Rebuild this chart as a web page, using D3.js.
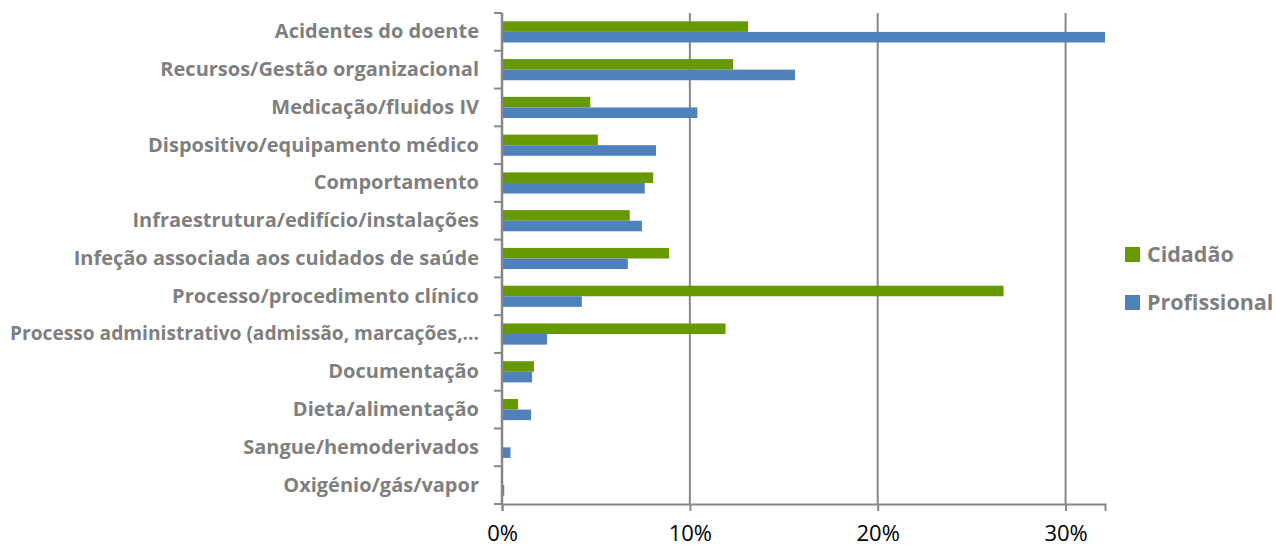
<!DOCTYPE html>
<html>
<head>
<meta charset="utf-8">
<script src="https://cdn.jsdelivr.net/npm/d3@7"></script>
<style>
  html, body { margin: 0; padding: 0; background: #fff; }
  svg { display: block; }
</style>
</head>
<body>
<svg id="chart" width="1276" height="548"></svg>
<script>
// categories, top to bottom
const categories = [
    "Acidentes do doente",
    "Recursos/Gestão organizacional",
    "Medicação/fluidos IV",
    "Dispositivo/equipamento médico",
    "Comportamento",
    "Infraestrutura/edifício/instalações",
    "Infeção associada aos cuidados de saúde",
    "Processo/procedimento clínico",
    "Processo administrativo (admissão, marcações,...",
    "Documentação",
    "Dieta/alimentação",
    "Sangue/hemoderivados",
    "Oxigénio/gás/vapor"
];
const seriesNames = ["Cidadão", "Profissional"];
const cidadao =      [13.1, 12.3, 4.7, 5.1, 8.05, 6.8, 8.9, 26.7, 11.9, 1.7, 0.85, 0, 0];
const profissional = [32.1, 15.6, 10.4, 8.2, 7.6, 7.45, 6.7, 4.25, 2.4, 1.6, 1.55, 0.45, 0.12];
const xTicks = [0, 10, 20, 30];

const COLORS = ["#669900", "#4f81bd"];
const GRAY = "#7f7f7f";
const AXIS = "#878787";

const svg = d3.select("#chart");
const m = { top: 13, left: 502, right: 171, bottom: 44 };
const W = 1276, H = 548;
const w = W - m.left - m.right;
const h = H - m.top - m.bottom;

const g = svg.append("g").attr("transform", `translate(${m.left},${m.top})`);

const x = d3.scaleLinear().domain([0, 32.1]).range([0, w]);
const y = d3.scaleBand().domain(categories).range([0, h]).paddingInner(0.44).paddingOuter(0.22);
const ySub = d3.scaleBand().domain(seriesNames).range([0, y.bandwidth()]);

// vertical gridlines
g.append("g")
    .selectAll("line").data(xTicks.slice(1)).join("line")
    .attr("x1", d => x(d)).attr("x2", d => x(d))
    .attr("y1", 0).attr("y2", h)
    .attr("stroke", AXIS).attr("stroke-width", 2);

// bars
const rows = categories.map((c, i) => ({ cat: c, vals: [cidadao[i], profissional[i]] }));
const grp = g.selectAll(".row").data(rows).join("g")
    .attr("class", "row")
    .attr("transform", d => `translate(0,${y(d.cat)})`);

grp.selectAll("rect").data(d => d.vals.map((v, k) => ({ v, k })).filter(e => e.v > 0)).join("rect")
    .attr("x", 0)
    .attr("y", d => ySub(seriesNames[d.k]))
    .attr("height", ySub.bandwidth())
    .attr("width", d => x(d.v))
    .attr("fill", d => COLORS[d.k]);

// y axis
const yAxisScale = d3.scaleBand().domain(categories).range([0, h]);
const PAD = 23;
const maxLabel = m.left - PAD - 10;   // keep labels inside the left edge
g.append("g")
    .call(d3.axisLeft(yAxisScale).tickSize(0).tickPadding(PAD))
    .call(a => a.select(".domain").remove())
    .call(a => a.selectAll("text")
        .attr("fill", GRAY)
        .attr("font-family", "'Open Sans', sans-serif")
        .attr("font-weight", "bold")
        .attr("font-size", 20)
        .each(function () {
            if (this.getComputedTextLength() > maxLabel) {
                d3.select(this).attr("textLength", maxLabel).attr("lengthAdjust", "spacingAndGlyphs");
            }
        }));

// y boundary ticks
const bounds = d3.range(categories.length + 1).map(i => i * yAxisScale.step());
g.append("g").selectAll("line").data(bounds).join("line")
    .attr("x1", -8).attr("x2", 0)
    .attr("y1", d => d).attr("y2", d => d)
    .attr("stroke", AXIS).attr("stroke-width", 2);
g.append("line")
    .attr("x1", 0).attr("x2", 0).attr("y1", 0).attr("y2", h)
    .attr("stroke", AXIS).attr("stroke-width", 2.5);

// x axis
g.append("g").attr("transform", `translate(0,${h})`)
    .call(d3.axisBottom(x).tickValues(xTicks).tickSize(7).tickPadding(14).tickFormat(d => d + "%"))
    .call(a => a.select(".domain").attr("stroke", AXIS).attr("stroke-width", 2))
    .call(a => a.selectAll("line").attr("stroke", AXIS).attr("stroke-width", 2))
    .call(a => a.selectAll("text")
        .attr("fill", "#000")
        .attr("font-family", "'Open Sans', sans-serif")
        .attr("font-size", 22));

// legend
const legend = svg.append("g").attr("transform", "translate(1125,247)");
const li = legend.selectAll("g").data(seriesNames).join("g")
    .attr("transform", (d, i) => `translate(0,${i * 48})`);
li.append("rect").attr("width", 15).attr("height", 15).attr("fill", (d, i) => COLORS[i]);
li.append("text")
    .attr("x", 22).attr("y", 7.5).attr("dy", "0.36em")
    .attr("fill", GRAY)
    .attr("font-family", "'Open Sans', sans-serif")
    .attr("font-weight", "bold")
    .attr("font-size", 21.5)
    .text(d => d);
</script>
</body>
</html>
